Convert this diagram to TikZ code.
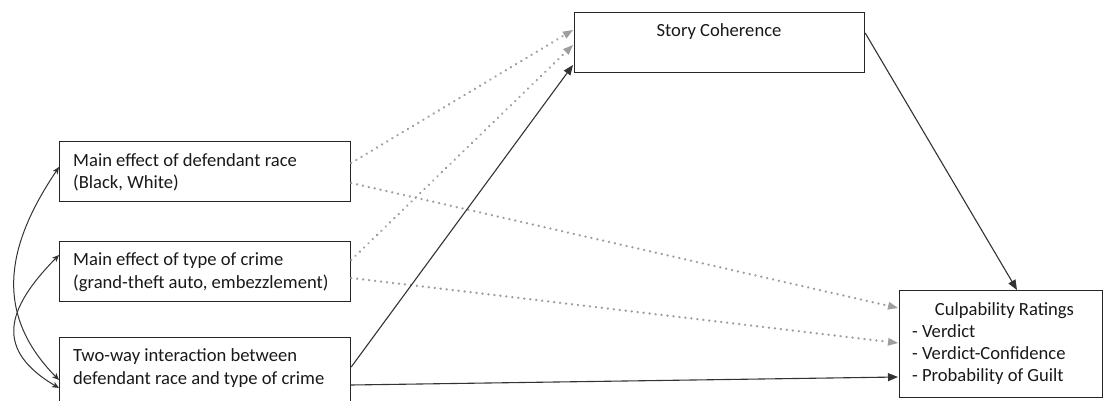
\documentclass[tikz,border=0pt]{standalone}
\usepackage{fontspec}
\setmainfont{Carlito}
\usetikzlibrary{arrows.meta,calc}
\begin{document}
\begin{tikzpicture}[x=1pt,y=-1pt,
  box/.style={draw=black!85,line width=1.2pt,rectangle,inner sep=0pt,anchor=north west},
  txt/.style={inner sep=0pt,anchor=base west,text=black!90,font=\fontsize{18.6}{23}\selectfont},
  solidarr/.style={draw=black!80,line width=1.1pt,-{Triangle[length=10pt,width=8pt]}},
  dotarr/.style={draw=black!38,line width=2.6pt,dash pattern=on 0.01pt off 6pt,line cap=round,-{Triangle[length=10pt,width=8pt,fill=black!38,line width=0pt,line cap=butt]}},
  curvarr/.style={draw=black!80,line width=1pt,{Stealth[length=7pt,width=6pt,inset=2pt]}-{Stealth[length=7pt,width=6pt,inset=2pt]}}
]
\useasboundingbox (0,0) rectangle (1103,401);
\clip (0,0) rectangle (1103,401);
% boxes
\node[box,minimum width=291pt,minimum height=60pt] (race) at (59,141) {};
\node[box,minimum width=291pt,minimum height=60pt] (crime) at (59,241) {};
\node[box,minimum width=291pt,minimum height=75pt] (inter) at (59,337) {};
\node[box,minimum width=290pt,minimum height=60pt] (story) at (574,12) {};
\node[box,minimum width=203pt,minimum height=107pt] (culp) at (899,290) {};
% texts
\node[txt] (t1a) at (73,166) {Main effect of defendant race};
\node[txt] (t1b) at (73,188) {(Black, White)};
\node[txt] (t2a) at (73,265) {Main effect of type of crime};
\node[txt] (t2b) at (73,288) {(grand-theft auto, embezzlement)};
\node[txt] (t3a) at (73,361) {Two-way interaction between};
\node[txt] (t3b) at (73,384) {defendant race and type of crime};
\node[txt,anchor=base] (ts) at (719,37) {Story Coherence};
\node[txt,anchor=base] (tc) at (1004.5,315) {Culpability Ratings};
\node[txt] (tc1) at (912,337) {- Verdict};
\node[txt] (tc2) at (912,359) {- Verdict-Confidence};
\node[txt] (tc3) at (912,381) {- Probability of Guilt};
% named connector ends
\coordinate (r1) at ($(race.north east)+(0,22)$);
\coordinate (r2) at ($(race.north east)+(0,42)$);
\coordinate (c1) at ($(crime.north east)+(0,19)$);
\coordinate (c2) at ($(crime.north east)+(0,37)$);
\coordinate (i1) at ($(inter.north east)+(0,30)$);
\coordinate (i2) at ($(inter.north east)+(0,48)$);
\coordinate (s1) at ($(story.north west)+(-1,18)$);
\coordinate (s2) at ($(story.north west)+(-1,33)$);
\coordinate (s3) at ($(story.north west)+(-1,53)$);
\coordinate (so) at ($(story.north east)+(0,21)$);
\coordinate (k0) at ($(culp.north west)+(118,0)$);
\coordinate (k1) at ($(culp.north west)+(-1,18)$);
\coordinate (k2) at ($(culp.north west)+(-1,53)$);
\coordinate (k3) at ($(culp.north west)+(-1,87)$);
\coordinate (l1) at ($(race.north west)+(0,26)$);
\coordinate (l2) at ($(crime.north west)+(0,14)$);
\coordinate (l3) at ($(inter.north west)+(0,43)$);
\coordinate (l4) at ($(inter.north west)+(0,51)$);
% dotted connectors
\draw[dotarr] (r1) -- (s1);
\draw[dotarr] (c1) -- (s2);
\draw[dotarr] (r2) -- (k1);
\draw[dotarr] (c2) -- (k2);
% solid connectors
\draw[solidarr] (i1) -- (s3);
\draw[solidarr] (i2) -- (k3);
\draw[solidarr] (so) -- (k0);
% curved double-headed
\draw[curvarr] (l1) .. controls (10,240) and (-10,310) .. (l3);
\draw[curvarr] (l2) .. controls (5,310) and (-5,350) .. (l4);
\end{tikzpicture}
\end{document}
